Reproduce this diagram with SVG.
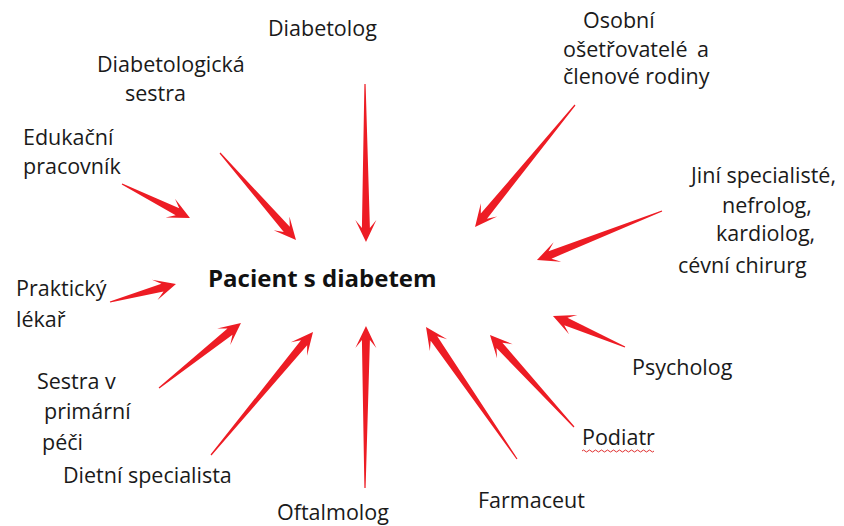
<svg xmlns="http://www.w3.org/2000/svg" width="844" height="526" viewBox="0 0 844 526">
  <style>
    .lbl { font-family: "Open Sans", "Noto Sans", "DejaVu Sans", sans-serif; font-size: 21.5px; fill: #1a1a1a; }
    .center { font-family: "Open Sans", "Noto Sans", "DejaVu Sans", sans-serif; font-size: 24px; font-weight: bold; fill: #111; }
    .arrow { fill: #ed1c24; }
    .spell { fill: none; stroke: #e03030; stroke-width: 1; }
  </style>
  <rect width="844" height="526" fill="#ffffff"/>

  <!-- tapered arrows: each drawn along +x from tail (0,0) to tip (L,0), then rotated into place -->
  <g id="connectors">
    <path class="arrow" transform="translate(122,184) rotate(26.57)" d="M0,-0.6 L62,-4 L54,-10.5 L76,0 L54,10.5 L62,4 L0,0.6 Z"/>
    <path class="arrow" transform="translate(220,153) rotate(48.86)" d="M0,-0.6 L101.5,-4 L93.5,-10.5 L115.5,0 L93.5,10.5 L101.5,4 L0,0.6 Z"/>
    <path class="arrow" transform="translate(365,84) rotate(89.64)" d="M0,-0.6 L144,-4 L136,-10.5 L158,0 L136,10.5 L144,4 L0,0.6 Z"/>
    <path class="arrow" transform="translate(575,105) rotate(129.34)" d="M0,-0.6 L143.7,-4 L135.7,-10.5 L157.7,0 L135.7,10.5 L143.7,4 L0,0.6 Z"/>
    <path class="arrow" transform="translate(662,211) rotate(158.59)" d="M0,-0.6 L120.3,-4 L112.3,-10.5 L134.3,0 L112.3,10.5 L120.3,4 L0,0.6 Z"/>
    <path class="arrow" transform="translate(110,302) rotate(-15.26)" d="M0,-0.6 L54.4,-4 L46.4,-10.5 L68.4,0 L46.4,10.5 L54.4,4 L0,0.6 Z"/>
    <path class="arrow" transform="translate(159,388) rotate(-38.4)" d="M0,-0.6 L90.6,-4 L82.6,-10.5 L104.6,0 L82.6,10.5 L90.6,4 L0,0.6 Z"/>
    <path class="arrow" transform="translate(211,455) rotate(-50.33)" d="M0,-0.6 L145.8,-4 L137.8,-10.5 L159.8,0 L137.8,10.5 L145.8,4 L0,0.6 Z"/>
    <path class="arrow" transform="translate(365,488) rotate(-89.65)" d="M0,-0.6 L148,-4 L140,-10.5 L162,0 L140,10.5 L148,4 L0,0.6 Z"/>
    <path class="arrow" transform="translate(517,459) rotate(-124.58)" d="M0,-0.6 L146.3,-4 L138.3,-10.5 L160.3,0 L138.3,10.5 L146.3,4 L0,0.6 Z"/>
    <path class="arrow" transform="translate(574,427) rotate(-132.4)" d="M0,-0.6 L110.6,-4 L102.6,-10.5 L124.6,0 L102.6,10.5 L110.6,4 L0,0.6 Z"/>
    <path class="arrow" transform="translate(625,347) rotate(-156.7)" d="M0,-0.6 L64.4,-4 L56.4,-10.5 L78.4,0 L56.4,10.5 L64.4,4 L0,0.6 Z"/>
  </g>

  <g id="pacient"><text class="center" x="208" y="287">Pacient s diabetem</text></g>
  <g id="diabetolog"><text class="lbl" x="268" y="36">Diabetolog</text></g>
  <g id="diabetologicka-sestra">
    <text class="lbl" x="97" y="72">Diabetologická</text>
    <text class="lbl" x="125" y="101">sestra</text>
  </g>
  <g id="edukacni-pracovnik">
    <text class="lbl" x="23" y="145">Edukační</text>
    <text class="lbl" x="23" y="174">pracovník</text>
  </g>
  <g id="osobni-osetrovatele">
    <text class="lbl" x="583" y="28">Osobní</text>
    <text class="lbl" x="563" y="57">ošetřovatelé<tspan x="697">a</tspan></text>
    <text class="lbl" x="563" y="84">členové rodiny</text>
  </g>
  <g id="jini-specialiste">
    <text class="lbl" x="691" y="183">Jiní specialisté,</text>
    <text class="lbl" x="722" y="213">nefrolog,</text>
    <text class="lbl" x="716" y="241">kardiolog,</text>
    <text class="lbl" x="678" y="273">cévní chirurg</text>
  </g>
  <g id="prakticky-lekar">
    <text class="lbl" x="16" y="296">Praktický</text>
    <text class="lbl" x="16" y="327">lékař</text>
  </g>
  <g id="psycholog"><text class="lbl" x="632" y="375">Psycholog</text></g>
  <g id="sestra-primarni-peci">
    <text class="lbl" x="37" y="389">Sestra v</text>
    <text class="lbl" x="44" y="419">primární</text>
    <text class="lbl" x="42" y="450">péči</text>
  </g>
  <g id="podiatr">
    <text class="lbl" x="582" y="445">Podiatr</text>
    <path class="spell" d="M582,451 q1.5,-2 3,0 t3,0 t3,0 t3,0 t3,0 t3,0 t3,0 t3,0 t3,0 t3,0 t3,0 t3,0 t3,0 t3,0 t3,0 t3,0 t3,0 t3,0 t3,0 t3,0 t3,0 t3,0 t3,0 t3,0"/>
  </g>
  <g id="dietni-specialista"><text class="lbl" x="63" y="483">Dietní specialista</text></g>
  <g id="oftalmolog"><text class="lbl" x="277" y="520">Oftalmolog</text></g>
  <g id="farmaceut"><text class="lbl" x="478" y="508">Farmaceut</text></g>
</svg>
